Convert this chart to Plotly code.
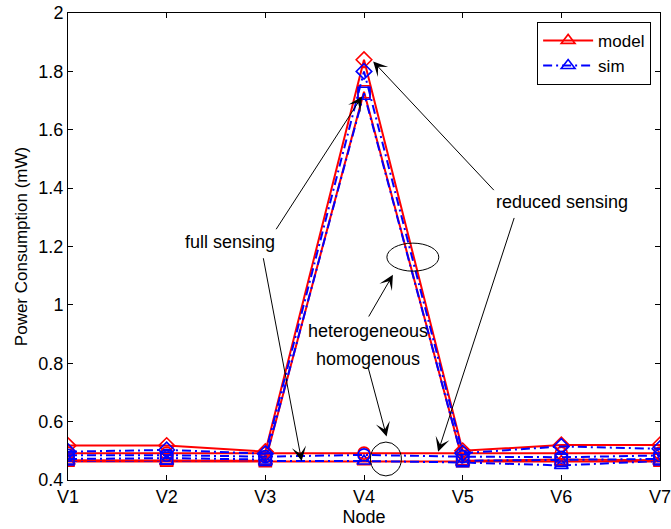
import plotly.graph_objects as go

nodes = ["V1", "V2", "V3", "V4", "V5", "V6", "V7"]
xi = list(range(len(nodes)))

# heterogeneous, reduced sensing
het_red_model = [0.518, 0.518, 0.497, 1.84, 0.500, 0.520, 0.520]
het_red_sim = [0.497, 0.503, 0.490, 1.80, 0.492, 0.515, 0.507]
# heterogeneous, full sensing
het_full_model = [0.468, 0.468, 0.466, 1.73, 0.466, 0.470, 0.468]
het_full_sim = [0.472, 0.475, 0.470, 1.725, 0.466, 0.468, 0.472]
# homogeneous, reduced sensing
hom_red_model = [0.492, 0.492, 0.492, 0.492, 0.492, 0.492, 0.492]
hom_red_sim = [0.485, 0.485, 0.480, 0.486, 0.480, 0.478, 0.484]
# homogeneous, full sensing
hom_full_model = [0.463, 0.463, 0.463, 0.463, 0.463, 0.463, 0.463]
hom_full_sim = [0.465, 0.465, 0.465, 0.465, 0.460, 0.450, 0.465]

yticks = [0.4, 0.6, 0.8, 1.0, 1.2, 1.4, 1.6, 1.8, 2.0]

RED = "#ff0000"
BLUE = "#0000ff"
FONT = "Liberation Sans, Arial, Helvetica, sans-serif"
DASHDOT = "9px,4px,2px,4px"
FS = 18

fig = go.Figure()

def add(y, color, symbol, dash, name=None, legend=False):
    fig.add_trace(go.Scatter(
        x=xi, y=y, mode="lines+markers", name=name, showlegend=legend,
        line=dict(color=color, width=2, dash=dash),
        marker=dict(symbol=symbol, size=12, color=color,
                    line=dict(color=color, width=1.6)),
    ))

add(hom_full_model, RED, "triangle-up-open", "solid", "model", True)
add(hom_full_sim, BLUE, "triangle-up-open", DASHDOT, "sim", True)
add(het_red_model, RED, "diamond-open", "solid")
add(het_full_model, RED, "square-open", "solid")
add(hom_red_model, RED, "circle-open", "solid")
add(het_red_sim, BLUE, "diamond-open", DASHDOT)
add(het_full_sim, BLUE, "square-open", DASHDOT)
add(hom_red_sim, BLUE, "circle-open", DASHDOT)

def arrow(x0, y0, x1, y1):
    fig.add_annotation(x=x1, y=y1, ax=x0, ay=y0, xref="x", yref="y",
                       axref="x", ayref="y", text="", showarrow=True,
                       arrowhead=3, arrowsize=2.4, arrowwidth=1,
                       arrowcolor="black", standoff=0, startstandoff=0)

def label(x, y, t):
    fig.add_annotation(x=x, y=y, xref="x", yref="y", text=t, showarrow=False,
                       font=dict(size=FS, color="black", family=FONT))

label(1.644, 1.216, "full sensing")
label(5.01, 1.352, "reduced sensing")
label(3.039, 0.912, "heterogeneous")
label(3.039, 0.814, "homogenous")

arrow(2.10, 1.254, 2.98, 1.714)
arrow(1.977, 1.165, 2.368, 0.465)
arrow(4.33, 1.388, 3.093, 1.834)
arrow(4.527, 1.303, 3.751, 0.497)
arrow(3.039, 0.955, 3.293, 1.103)
arrow(3.039, 0.789, 3.229, 0.549)

fig.add_shape(type="circle", xref="x", yref="y", x0=3.232, x1=3.758,
              y0=1.1155, y1=1.2115, line=dict(color="black", width=1))
fig.add_shape(type="circle", xref="x", yref="y", x0=3.065, x1=3.379,
              y0=0.414, y1=0.530, line=dict(color="black", width=1))

axis_common = dict(showline=True, linecolor="black", linewidth=1,
                   mirror="ticks", ticks="inside", ticklen=5, tickwidth=1,
                   tickcolor="black", showgrid=False, zeroline=False,
                   automargin=False, ticklabeloverflow="allow",
                   tickfont=dict(size=FS, color="black", family=FONT))

fig.update_xaxes(range=[0, 6], tickvals=xi, ticktext=nodes,
                 title=dict(text="Node", font=dict(size=FS, color="black", family=FONT), standoff=2),
                 **axis_common)
fig.update_yaxes(range=[0.4, 2.0], tickvals=yticks,
                 ticktext=[f"{v:g}" for v in yticks],
                 title=dict(text="Power Consumption (mW)", font=dict(size=17, color="black", family=FONT), standoff=6),
                 **axis_common)

fig.update_layout(
    width=671, height=529,
    margin=dict(l=68, r=11, t=13, b=49, autoexpand=False),
    paper_bgcolor="white", plot_bgcolor="white",
    font=dict(family=FONT, size=FS, color="black"),
    legend=dict(x=0.985, y=0.981, xanchor="right", yanchor="top",
                bordercolor="black", borderwidth=1, bgcolor="white",
                font=dict(size=17, color="black", family=FONT),
                tracegroupgap=0, itemwidth=50),
)

fig.write_html("out.html")
